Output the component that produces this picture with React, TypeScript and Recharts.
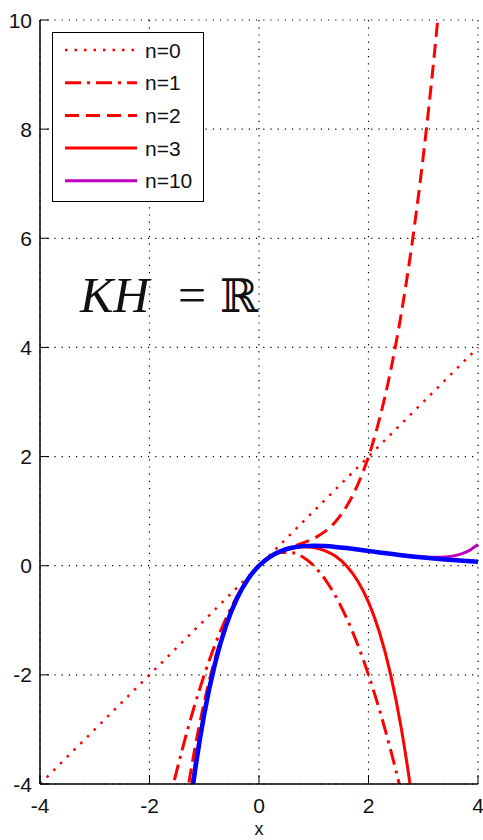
import React from 'react';
import { LineChart, Line, XAxis, YAxis, CartesianGrid, Legend } from 'recharts';

const xs = [
  -4, -3.8, -3.6, -3.4, -3.2, -3, -2.8, -2.6, -2.4, -2.2, -2, -1.8, -1.6, -1.4, -1.2, -1, -0.8, -0.6, -0.4, -0.2,
  0, 0.2, 0.4, 0.6, 0.8, 1, 1.2, 1.4, 1.6, 1.8, 2, 2.2, 2.4, 2.6, 2.8, 3, 3.2, 3.4, 3.6, 3.8, 4,
];

const n0 = [
  -4, -3.8, -3.6, -3.4, -3.2, -3, -2.8, -2.6, -2.4, -2.2, -2, -1.8, -1.6, -1.4, -1.2, -1, -0.8, -0.6, -0.4, -0.2,
  0, 0.2, 0.4, 0.6, 0.8, 1, 1.2, 1.4, 1.6, 1.8, 2, 2.2, 2.4, 2.6, 2.8, 3, 3.2, 3.4, 3.6, 3.8, 4,
];

const n1 = [
  null, null, null, null, null, null, null, null, null, null, null,
  -5.04, -4.16, -3.36, -2.64, -2, -1.44, -0.96, -0.56, -0.24, 0, 0.16, 0.24, 0.24, 0.16, 0,
  -0.24, -0.56, -0.96, -1.44, -2, -2.64, -3.36, -4.16, -5.04,
  null, null, null, null, null, null,
];

const n2 = [
  null, null, null, null, null, null, null, null, null, null, null, null, null,
  -4.732, -3.504, -2.5, -1.696, -1.068, -0.592, -0.244, 0, 0.164, 0.272, 0.348, 0.416, 0.5,
  0.624, 0.812, 1.088, 1.476, 2, 2.684, 3.552, 4.628, 5.936, 7.5, 9.344, 11.492,
  null, null, null,
];

const n3 = [
  null, null, null, null, null, null, null, null, null, null, null, null, null,
  -5.372, -3.85, -2.667, -1.764, -1.09, -0.596, -0.244, 0, 0.164, 0.268, 0.326, 0.348, 0.333,
  0.278, 0.172, -0.004, -0.274, -0.667, -1.22, -1.978, -2.988, -4.308, -6,
  null, null, null, null, null,
];

const n10 = [
  null, null, null, null, null, null, null, null, null, null, null, null, null,
  -5.677, -3.984, -2.718, -1.78, -1.093, -0.597, -0.244, 0, 0.164, 0.268, 0.329, 0.359, 0.368,
  0.361, 0.345, 0.323, 0.298, 0.271, 0.244, 0.218, 0.195, 0.175, 0.16, 0.153, 0.159, 0.189, 0.257, 0.388,
];

const exact = [
  null, null, null, null, null, null, null, null, null, null, null, null, null,
  -5.677, -3.984, -2.718, -1.78, -1.093, -0.597, -0.244, 0, 0.164, 0.268, 0.329, 0.359, 0.368,
  0.361, 0.345, 0.323, 0.298, 0.271, 0.244, 0.218, 0.193, 0.17, 0.149, 0.13, 0.113, 0.098, 0.085, 0.073,
];

const xTicks = [-4, -2, 0, 2, 4];
const yTicks = [-4, -2, 0, 2, 4, 6, 8, 10];

const data = xs.map((x, i) => ({ x, n0: n0[i], n1: n1[i], n2: n2[i], n3: n3[i], n10: n10[i], exact: exact[i] }));

const series = [
  { key: 'n0', name: 'n=0', color: '#ff0000', width: 2.5, dash: '2.5 7' },
  { key: 'n1', name: 'n=1', color: '#ff0000', width: 3, dash: '16 6 3 6' },
  { key: 'n2', name: 'n=2', color: '#ff0000', width: 3, dash: '14 7' },
  { key: 'n3', name: 'n=3', color: '#ff0000', width: 3, dash: undefined },
  { key: 'n10', name: 'n=10', color: '#bf00bf', width: 3, dash: undefined },
];

const FONT = '"Liberation Sans", Arial, sans-serif';
const TICK = 9;

const LeftTick = ({ x, y, payload }: any) => (
  <g>
    <line x1={x} x2={x + TICK} y1={y} y2={y} stroke="#000" />
    <text x={x - 8} y={y + 7.5} textAnchor="end" fontSize={21} fontFamily={FONT} fill="#111">
      {payload.value}
    </text>
  </g>
);

const BottomTick = ({ x, y, payload }: any) => (
  <g>
    <line x1={x} x2={x} y1={y} y2={y - TICK} stroke="#000" />
    <text x={x} y={y + 28.5} textAnchor="middle" fontSize={21} fontFamily={FONT} fill="#111">
      {payload.value}
    </text>
  </g>
);

const RightTick = ({ x, y }: any) => <line x1={x} x2={x - TICK} y1={y} y2={y} stroke="#000" />;
const TopTick = ({ x, y }: any) => <line x1={x} x2={x} y1={y} y2={y + TICK} stroke="#000" />;

const LegendBox = () => (
  <svg width={152} height={170} style={{ display: 'block' }}>
    <rect x={0.5} y={0.5} width={151} height={169} fill="#fff" stroke="#000" />
    {series.map((s, i) => {
      const cy = 18 + i * 32.7;
      return (
        <g key={s.key}>
          <line x1={13} x2={85} y1={cy} y2={cy} stroke={s.color} strokeWidth={s.width} strokeDasharray={s.dash} />
          <text x={93} y={cy + 7.5} fontSize={21} fontFamily={FONT} fill="#111">
            {s.name}
          </text>
        </g>
      );
    })}
  </svg>
);

export default function App() {
  return (
    <div style={{ position: 'absolute', left: 0, top: 0, width: 483, height: 840, background: '#fff' }}>
      <LineChart width={483} height={840} data={data} margin={{ top: 20, right: 5, left: 0, bottom: 0 }}>
        <CartesianGrid stroke="#000" strokeWidth={1.2} strokeDasharray="1.2 6" />
        <XAxis
          dataKey="x"
          type="number"
          domain={[-4, 4]}
          ticks={xTicks}
          height={56}
          tickSize={0}
          tickMargin={0}
          tick={<BottomTick />}
          axisLine={{ stroke: '#000', strokeWidth: 1.5 }}
          label={{ value: 'x', position: 'insideBottom', offset: 5, fill: '#111', fontSize: 18, fontFamily: FONT }}
        />
        <XAxis
          xAxisId="top"
          orientation="top"
          dataKey="x"
          type="number"
          domain={[-4, 4]}
          ticks={xTicks}
          height={0}
          tickSize={0}
          tickMargin={0}
          tick={<TopTick />}
          axisLine={{ stroke: '#000', strokeWidth: 1.5 }}
        />
        <YAxis
          type="number"
          domain={[-4, 10]}
          ticks={yTicks}
          allowDataOverflow
          width={40}
          tickSize={0}
          tickMargin={0}
          tick={<LeftTick />}
          axisLine={{ stroke: '#000', strokeWidth: 1.5 }}
        />
        <YAxis
          yAxisId="right"
          orientation="right"
          type="number"
          domain={[-4, 10]}
          ticks={yTicks}
          allowDataOverflow
          width={0}
          tickSize={0}
          tickMargin={0}
          tick={<RightTick />}
          axisLine={{ stroke: '#000', strokeWidth: 1.5 }}
        />
        <Legend
          layout="vertical"
          align="center"
          verticalAlign="middle"
          wrapperStyle={{ left: 52, top: 32, width: 152, height: 170 }}
          content={() => <LegendBox />}
        />
        {series.map((s) => (
          <Line
            key={s.key}
            type="monotone"
            dataKey={s.key}
            name={s.name}
            stroke={s.color}
            strokeWidth={s.width}
            strokeDasharray={s.dash}
            dot={false}
            isAnimationActive={false}
          />
        ))}
        <Line
          type="monotone"
          dataKey="exact"
          stroke="#0000ff"
          strokeWidth={4.5}
          dot={false}
          legendType="none"
          isAnimationActive={false}
        />
      </LineChart>
      <svg width={483} height={840} style={{ position: 'absolute', left: 0, top: 0, pointerEvents: 'none' }}>
        <text x={80} y={312} fontSize={50} fontFamily='"Liberation Serif", "DejaVu Serif", serif' fontStyle="italic" fill="#111">
          KH
        </text>
        <text x={192} y={312} fontSize={50} textAnchor="middle" fontFamily='"Liberation Serif", "DejaVu Serif", serif' fill="#111">
          =
        </text>
        <text x={239} y={312} fontSize={46} textAnchor="middle" fontFamily='"DejaVu Serif", serif' fill="#111">
          ℝ
        </text>
      </svg>
    </div>
  );
}
